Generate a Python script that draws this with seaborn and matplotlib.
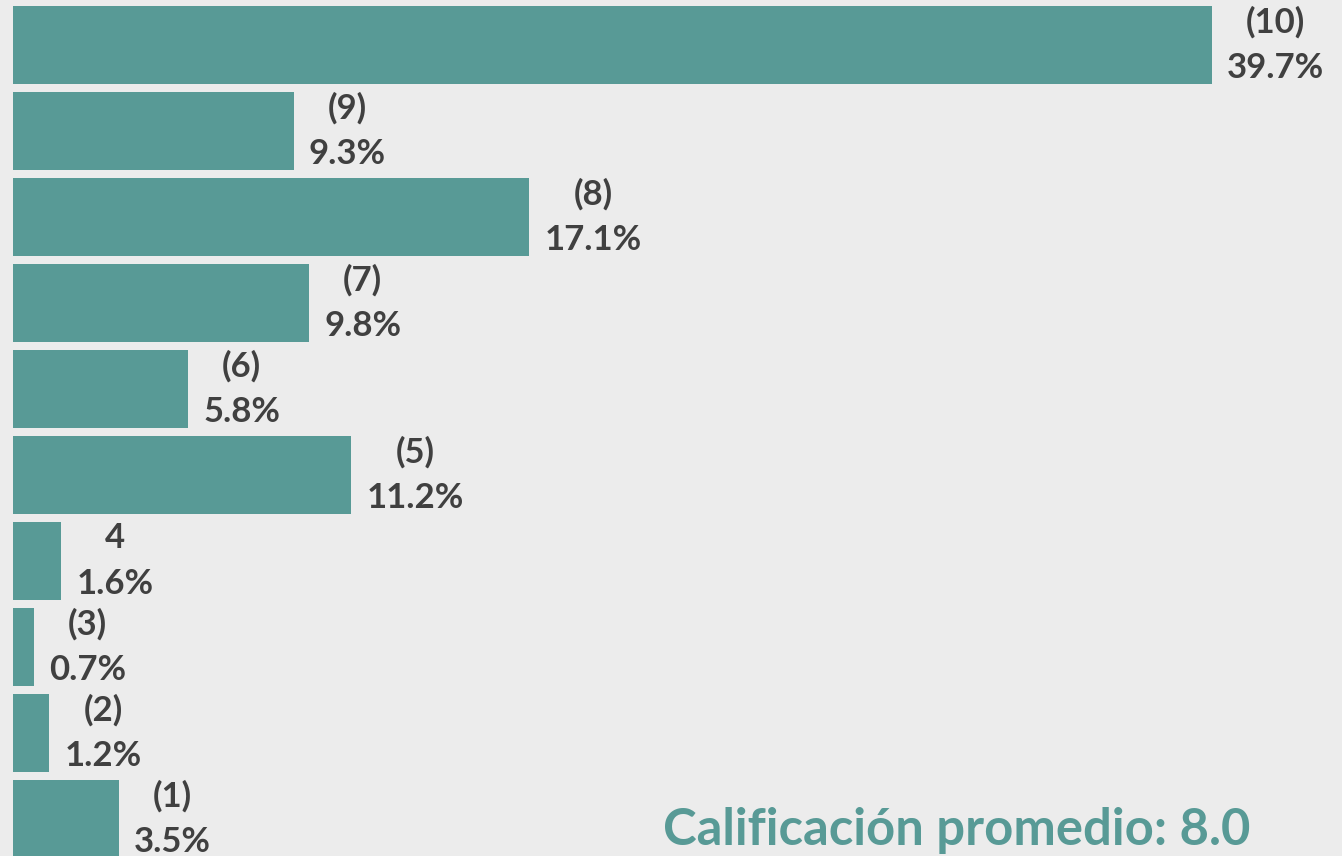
import seaborn as sns
import matplotlib.pyplot as plt
import pandas as pd

# calificaciones de 10 a 1, con su porcentaje
categorias = ["(10)", "(9)", "(8)", "(7)", "(6)", "(5)", "4", "(3)", "(2)", "(1)"]
porcentajes = [39.7, 9.3, 17.1, 9.8, 5.8, 11.2, 1.6, 0.7, 1.2, 3.5]
promedio = "Calificación promedio: 8.0"

df = pd.DataFrame({"cal": categorias, "pct": porcentajes})

sns.set_theme(style="white")
plt.rcParams['font.family'] = ['Lato', 'DejaVu Sans']

fondo = "#ececec"
verde = "#589a96"

fig = plt.figure(figsize=(13.42, 8.56), dpi=100, facecolor=fondo)
ax = fig.add_axes([0, 0, 1, 1])
ax.set_facecolor(fondo)

sns.barplot(data=df, x="pct", y="cal", orient="h", color=verde,
            saturation=1, width=0.907, linewidth=0, ax=ax)

for i, (c, p) in enumerate(zip(categorias, porcentajes)):
    ax.text(p + 0.5, i, f"{c}\n{p:.1f}%", ha="left", va="center",
            multialignment="center", fontsize=25, fontweight="bold",
            color="#404040", linespacing=1.55)

ax.text(0.932, 0.013, promedio, transform=ax.transAxes, ha="right",
        va="baseline", fontsize=36.5, fontweight="bold", color=verde)

ax.set_xlim(-0.43, 44.0)
ax.set_ylim(9.43, -0.523)
ax.set_axis_off()

fig.savefig("out.png", dpi=100, facecolor=fondo)
